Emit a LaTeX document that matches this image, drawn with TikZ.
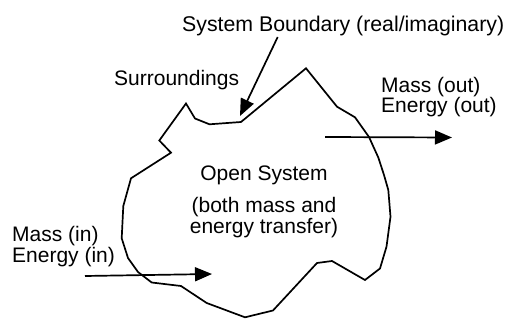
\documentclass[tikz,border=0pt]{standalone}
\usepackage{fontspec}
\setmainfont{Liberation Sans}
\usetikzlibrary{arrows.meta}
\begin{document}
\begin{tikzpicture}[x=1pt,y=-1pt,
  lbl/.style={inner sep=0pt,font=\fontsize{21}{19}\selectfont},
  bound/.style={line width=1.7pt,line join=miter},
  flow/.style={line width=1.7pt,-{Triangle[length=17pt,width=14pt]}}]
\useasboundingbox (0,0) rectangle (511,320);
% system boundary outline
\draw[bound] (186,103.5) -- (195,118.5) -- (209.5,124.3) -- (241,122) -- (306,68.3)
  -- (337,106.7) -- (355,117.3) -- (369,137) -- (378.3,157.5) -- (384,175)
  -- (388.3,190) -- (390.5,216.7) -- (386.5,246.7) -- (380,268.5) -- (365,280)
  -- (332,261) -- (317,263) -- (273,310.5) -- (245,317.3) -- (206.7,303)
  -- (181,286) -- (151.7,282.5) -- (138,272) -- (128,258) -- (121.7,238.3)
  -- (123.3,206) -- (131,178.3) -- (171,152.7) -- (159.3,140.5) -- cycle;
% labels
\node[lbl,anchor=base west,font=\fontsize{21.3}{19}\selectfont] (sb) at (182,32) {System Boundary (real/imaginary)};
\node[lbl,anchor=base west] (sur) at (114,85.5) {Surroundings};
\node[lbl,anchor=base west,align=left] (mout) at (381,113) {Mass (out)\\Energy (out)};
\node[lbl,anchor=base west,align=left] (min) at (12,262) {Mass (in)\\Energy (in)};
\node[lbl,anchor=base,align=center] (os) at (264,233.5) {Open System\\[12pt](both mass and\\energy transfer)};
% arrow end points
\coordinate (sbs) at (277.7,37);
\coordinate (sbe) at (240,116);
\coordinate (outs) at (325,137);
\coordinate (oute) at (452,137.5);
\coordinate (ins) at (85,276);
\coordinate (ine) at (212,274);
\draw[flow] (sbs) -- (sbe);
\draw[flow] (outs) -- (oute);
\draw[flow] (ins) -- (ine);
\end{tikzpicture}
\end{document}
